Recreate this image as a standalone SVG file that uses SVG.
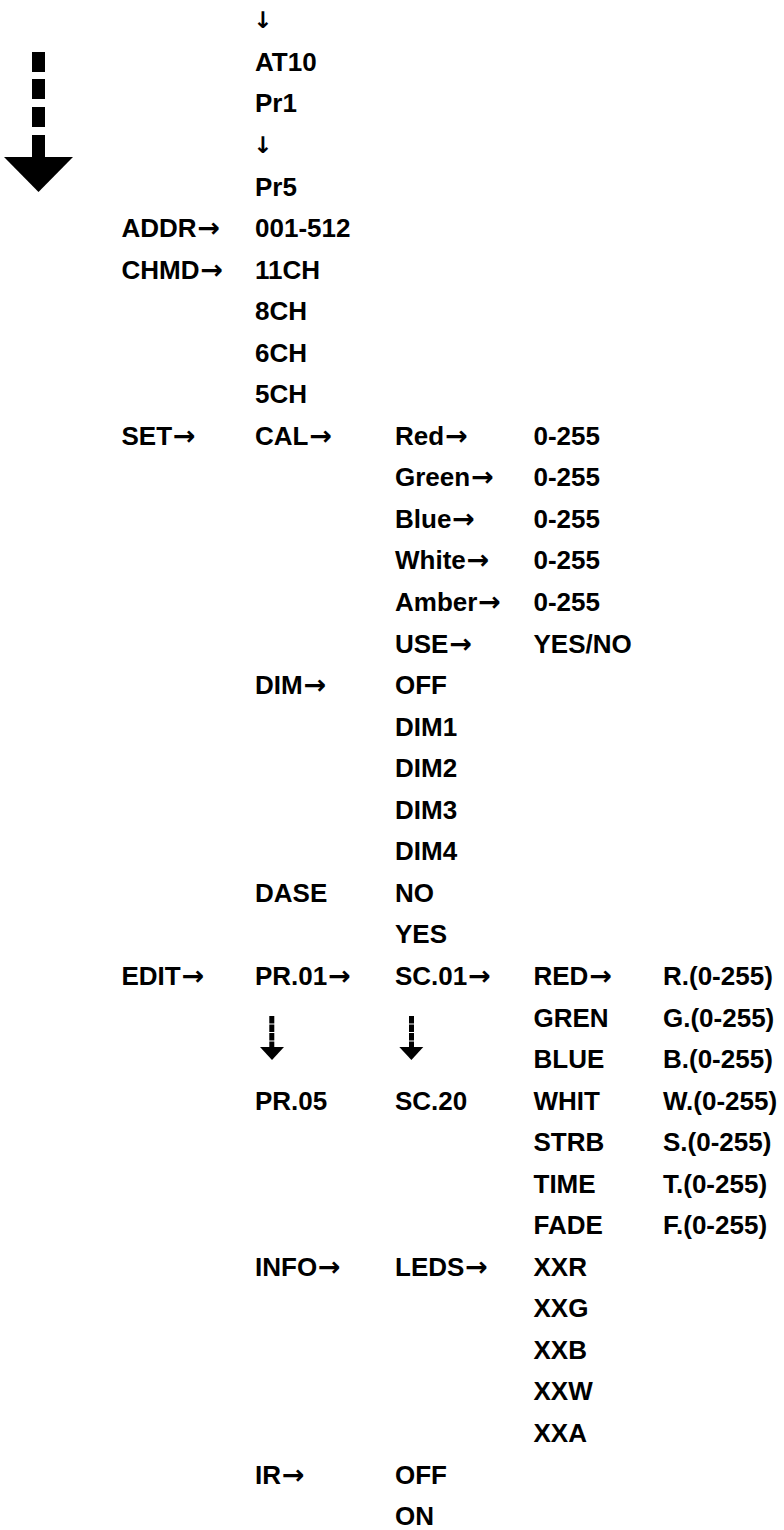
<svg xmlns="http://www.w3.org/2000/svg" width="784" height="1530" viewBox="0 0 784 1530">
<style>
.t{font-family:"Liberation Sans",Arial,sans-serif;font-weight:bold;font-size:26px;fill:#000}
.ar{font-family:"DejaVu Sans",sans-serif;font-weight:bold;font-size:27px}
.sa{font-family:"DejaVu Sans",sans-serif;font-weight:bold;font-size:23px;fill:#000}
.dash{stroke:#000;stroke-width:5;stroke-dasharray:7.5 1;fill:none}
</style>
<rect width="784" height="1530" fill="#fff"/>
<g id="connectors">
  <g id="big-arrow">
    <rect x="32" y="52" width="13" height="20"/>
    <rect x="32" y="79" width="13" height="20"/>
    <rect x="32" y="107" width="13" height="20"/>
    <rect x="32" y="135" width="13" height="23"/>
    <polygon points="4,157 73,157 38.5,192"/>
  </g>
  <g id="pr-arrow">
    <line class="dash" x1="271.8" y1="1016" x2="271.8" y2="1048"/>
    <polygon points="260,1047 284,1047 272,1060"/>
  </g>
  <g id="sc-arrow">
    <line class="dash" x1="411.5" y1="1016" x2="411.5" y2="1048"/>
    <polygon points="399.3,1047 423.3,1047 411.4,1060"/>
  </g>
</g>
<g id="col0">
  <g id="n-addr"><text class="t" x="121.5" y="237.05">ADDR<tspan class="ar" dx="1">→</tspan></text></g>
  <g id="n-chmd"><text class="t" x="121.5" y="278.6">CHMD<tspan class="ar" dx="1">→</tspan></text></g>
  <g id="n-set"><text class="t" x="121.5" y="444.8">SET<tspan class="ar" dx="1">→</tspan></text></g>
  <g id="n-edit"><text class="t" x="121.5" y="984.95">EDIT<tspan class="ar" dx="1">→</tspan></text></g>
</g>
<g id="col1">
  <g id="n-down1"><text class="sa" x="263" y="28" text-anchor="middle">↓</text></g>
  <g id="n-at10"><text class="t" x="255" y="70.85">AT10</text></g>
  <g id="n-pr1"><text class="t" x="255" y="112.4">Pr1</text></g>
  <g id="n-down2"><text class="sa" x="263" y="153" text-anchor="middle">↓</text></g>
  <g id="n-pr5"><text class="t" x="255" y="195.5">Pr5</text></g>
  <g id="n-001"><text class="t" x="255" y="237.05">001-512</text></g>
  <g id="n-11ch"><text class="t" x="255" y="278.6">11CH</text></g>
  <g id="n-8ch"><text class="t" x="255" y="320.15">8CH</text></g>
  <g id="n-6ch"><text class="t" x="255" y="361.7">6CH</text></g>
  <g id="n-5ch"><text class="t" x="255" y="403.25">5CH</text></g>
  <g id="n-cal"><text class="t" x="255" y="444.8">CAL<tspan class="ar" dx="1">→</tspan></text></g>
  <g id="n-dim"><text class="t" x="255" y="694.1">DIM<tspan class="ar" dx="1">→</tspan></text></g>
  <g id="n-dase"><text class="t" x="255" y="901.85">DASE</text></g>
  <g id="n-pr01"><text class="t" x="255" y="984.95">PR.01<tspan class="ar" dx="1">→</tspan></text></g>
  <g id="n-pr05"><text class="t" x="255" y="1109.6">PR.05</text></g>
  <g id="n-info"><text class="t" x="255" y="1275.8">INFO<tspan class="ar" dx="1">→</tspan></text></g>
  <g id="n-ir"><text class="t" x="255" y="1483.55">IR<tspan class="ar" dx="1">→</tspan></text></g>
</g>
<g id="col2">
  <g id="n-red"><text class="t" x="395" y="444.8">Red<tspan class="ar" dx="1">→</tspan></text></g>
  <g id="n-green"><text class="t" x="395" y="486.35">Green<tspan class="ar" dx="1">→</tspan></text></g>
  <g id="n-blue"><text class="t" x="395" y="527.9">Blue<tspan class="ar" dx="1">→</tspan></text></g>
  <g id="n-white"><text class="t" x="395" y="569.45">White<tspan class="ar" dx="1">→</tspan></text></g>
  <g id="n-amber"><text class="t" x="395" y="611">Amber<tspan class="ar" dx="1">→</tspan></text></g>
  <g id="n-use"><text class="t" x="395" y="652.55">USE<tspan class="ar" dx="1">→</tspan></text></g>
  <g id="n-off1"><text class="t" x="395" y="694.1">OFF</text></g>
  <g id="n-dim1"><text class="t" x="395" y="735.65">DIM1</text></g>
  <g id="n-dim2"><text class="t" x="395" y="777.2">DIM2</text></g>
  <g id="n-dim3"><text class="t" x="395" y="818.75">DIM3</text></g>
  <g id="n-dim4"><text class="t" x="395" y="860.3">DIM4</text></g>
  <g id="n-no"><text class="t" x="395" y="901.85">NO</text></g>
  <g id="n-yes"><text class="t" x="395" y="943.4">YES</text></g>
  <g id="n-sc01"><text class="t" x="395" y="984.95">SC.01<tspan class="ar" dx="1">→</tspan></text></g>
  <g id="n-sc20"><text class="t" x="395" y="1109.6">SC.20</text></g>
  <g id="n-leds"><text class="t" x="395" y="1275.8">LEDS<tspan class="ar" dx="1">→</tspan></text></g>
  <g id="n-off2"><text class="t" x="395" y="1483.55">OFF</text></g>
  <g id="n-on"><text class="t" x="395" y="1525.1">ON</text></g>
</g>
<g id="col3">
  <g id="n-v1"><text class="t" x="533.5" y="444.8">0-255</text></g>
  <g id="n-v2"><text class="t" x="533.5" y="486.35">0-255</text></g>
  <g id="n-v3"><text class="t" x="533.5" y="527.9">0-255</text></g>
  <g id="n-v4"><text class="t" x="533.5" y="569.45">0-255</text></g>
  <g id="n-v5"><text class="t" x="533.5" y="611">0-255</text></g>
  <g id="n-yesno"><text class="t" x="533.5" y="652.55">YES/NO</text></g>
  <g id="n-RED"><text class="t" x="533.5" y="984.95">RED<tspan class="ar" dx="1">→</tspan></text></g>
  <g id="n-gren"><text class="t" x="533.5" y="1026.5">GREN</text></g>
  <g id="n-BLUE"><text class="t" x="533.5" y="1068.05">BLUE</text></g>
  <g id="n-whit"><text class="t" x="533.5" y="1109.6">WHIT</text></g>
  <g id="n-strb"><text class="t" x="533.5" y="1151.15">STRB</text></g>
  <g id="n-time"><text class="t" x="533.5" y="1192.7">TIME</text></g>
  <g id="n-fade"><text class="t" x="533.5" y="1234.25">FADE</text></g>
  <g id="n-xxr"><text class="t" x="533.5" y="1275.8">XXR</text></g>
  <g id="n-xxg"><text class="t" x="533.5" y="1317.35">XXG</text></g>
  <g id="n-xxb"><text class="t" x="533.5" y="1358.9">XXB</text></g>
  <g id="n-xxw"><text class="t" x="533.5" y="1400.45">XXW</text></g>
  <g id="n-xxa"><text class="t" x="533.5" y="1442">XXA</text></g>
</g>
<g id="col4">
  <g id="n-r"><text class="t" x="663" y="984.95">R.(0-255)</text></g>
  <g id="n-g"><text class="t" x="663" y="1026.5">G.(0-255)</text></g>
  <g id="n-b"><text class="t" x="663" y="1068.05">B.(0-255)</text></g>
  <g id="n-w"><text class="t" x="663" y="1109.6">W.(0-255)</text></g>
  <g id="n-s"><text class="t" x="663" y="1151.15">S.(0-255)</text></g>
  <g id="n-t"><text class="t" x="663" y="1192.7">T.(0-255)</text></g>
  <g id="n-f"><text class="t" x="663" y="1234.25">F.(0-255)</text></g>
</g>
</svg>
